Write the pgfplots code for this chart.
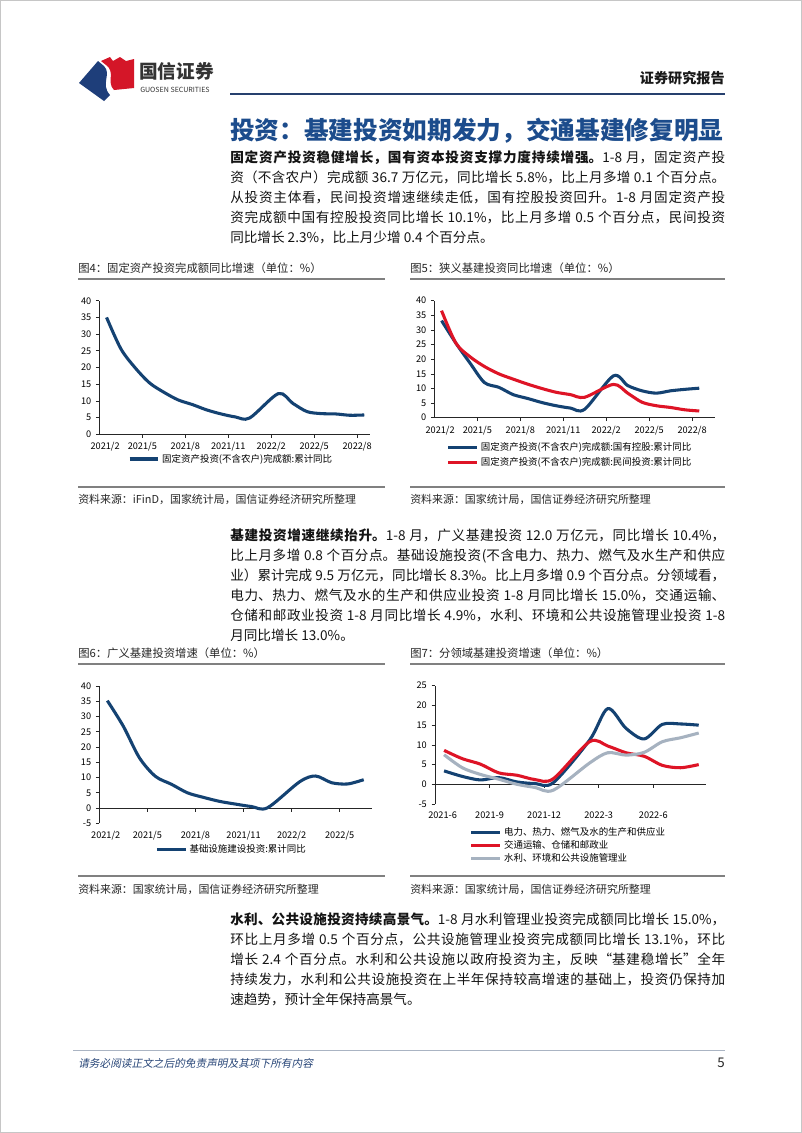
\documentclass[border=0pt]{standalone}
\usepackage{pgfplots}
\pgfplotsset{compat=1.18}
\usepackage{fontspec}
\setmainfont{Noto Sans CJK SC}
\newfontfamily\slantfont[FakeSlant=0.2]{Noto Sans CJK SC}
\XeTeXlinebreaklocale "zh"
\XeTeXlinebreakskip=0pt plus 1pt

\definecolor{chartblue}{RGB}{20,66,114}
\definecolor{chartred}{RGB}{222,20,38}
\definecolor{chartgray}{RGB}{166,178,192}
\definecolor{titleblue}{RGB}{28,76,140}
\definecolor{headerblue}{RGB}{38,64,110}
\definecolor{logoblue}{RGB}{30,62,122}
\definecolor{logored}{RGB}{212,22,40}
\definecolor{footblue}{RGB}{40,70,120}
\definecolor{footline}{RGB}{170,180,195}
\definecolor{rulegray}{RGB}{128,128,128}

\newcommand\bodyfont{\fontsize{10.2pt}{15pt}\selectfont}

\pgfplotsset{
  pagechart/.style={
    scale only axis, anchor=south west,
    axis x line*=bottom, axis y line*=left,
    tick align=outside, major tick length=2.6pt,
    axis line style={black!85, line width=0.55pt},
    tick style={black!85, line width=0.5pt},
    tick label style={font=\fontsize{6.9pt}{7pt}\selectfont, black},
    /pgf/number format/assume math mode=true,
    legend style={draw=none, fill=none, font=\fontsize{7.1pt}{8pt}\selectfont,
      inner sep=0pt, outer sep=0pt, /tikz/column sep=1.2pt,
      nodes={inner sep=0.6pt, text height=6pt, text depth=1.5pt}},
    legend cell align=left,
    legend image code/.code={\draw[#1, line width=2.3pt] (0pt,0pt) -- (21.5pt,0pt);},
    every axis plot/.append style={line width=2.3pt, smooth, tension=0.5},
    extra x tick style={major tick style={draw opacity=0}},
  },
}

\begin{document}
\begin{tikzpicture}
\path[use as bounding box, fill=white] (0pt,0pt) rectangle (601.5pt,-849.75pt);

\begin{scope}[x=0.75pt, y=-0.75pt]
% page frame
\draw[gray!45, line width=0.75pt] (0.5,0.5) rectangle (801.5,1132.5);
% logo
\fill[logoblue] (79,83) -- (98,61) -- (104,66) .. controls (112,74) and (100,84) .. (110,95) -- (104,101) -- cycle;
\fill[logored] (101,61) -- (110,57) -- (113,61) -- (120,57) -- (126,61) -- (134,59) -- (134,88) -- (114,90) .. controls (106,82) and (116,72) .. (106,65) -- cycle;
\node[anchor=west, inner sep=0, font=\bfseries\fontsize{14pt}{16pt}\selectfont, text=black!80] at (139,71) {国信证券};
\node[anchor=west, inner sep=0, font=\fontsize{5.3pt}{6pt}\selectfont, text=black!80] at (140,90) {GUOSEN SECURITIES};
\node[anchor=east, inner sep=0, font=\bfseries\fontsize{10.6pt}{12pt}\selectfont, text=black!90] at (725,78) {证券研究报告};
\draw[headerblue, line width=1.6pt] (230,94) -- (725,94);
% title
\node[anchor=west, inner sep=0, font=\bfseries\fontsize{18.5pt}{20pt}\selectfont, text=titleblue] at (230,131) {投资：基建投资如期发力，交通基建修复明显};

% paragraph 1
\node[anchor=north west, inner sep=0, text width=371.25pt, align=justify, font=\bodyfont, text=black!92] at (230,148.2) {\noindent\strut\textbf{固定资产投资稳健增长，国有资本投资支撑力度持续增强。}1-8 月，固定资产投\linebreak
资（不含农户）完成额 36.7 万亿元，同比增长 5.8\%，比上月多增 0.1 个百分点。\linebreak
从投资主体看，民间投资增速继续走低，国有控股投资回升。1-8 月固定资产投\linebreak
资完成额中国有控股投资同比增长 10.1\%，比上月多增 0.5 个百分点，民间投资\linebreak
同比增长 2.3\%，比上月少增 0.4 个百分点。};

% paragraph 2
\node[anchor=north west, inner sep=0, text width=371.25pt, align=justify, font=\bodyfont, text=black!92] at (230,526.2) {\noindent\strut\textbf{基建投资增速继续抬升。}1-8 月，广义基建投资 12.0 万亿元，同比增长 10.4\%，\linebreak
比上月多增 0.8 个百分点。基础设施投资(不含电力、热力、燃气及水生产和供应\linebreak
业）累计完成 9.5 万亿元，同比增长 8.3\%。比上月多增 0.9 个百分点。分领域看，\linebreak
电力、热力、燃气及水的生产和供应业投资 1-8 月同比增长 15.0\%，交通运输、\linebreak
仓储和邮政业投资 1-8 月同比增长 4.9\%，水利、环境和公共设施管理业投资 1-8\linebreak
月同比增长 13.0\%。};

% paragraph 3
\node[anchor=north west, inner sep=0, text width=371.25pt, align=justify, font=\bodyfont, text=black!92] at (230,910.2) {\noindent\strut\textbf{水利、公共设施投资持续高景气。}1-8 月水利管理业投资完成额同比增长 15.0\%，\linebreak
环比上月多增 0.5 个百分点，公共设施管理业投资完成额同比增长 13.1\%，环比\linebreak
增长 2.4 个百分点。水利和公共设施以政府投资为主，反映“基建稳增长”全年\linebreak
持续发力，水利和公共设施投资在上半年保持较高增速的基础上，投资仍保持加\linebreak
速趋势，预计全年保持高景气。};

% figure titles and rules
\node[anchor=west, inner sep=0, font=\fontsize{8.5pt}{10pt}\selectfont, text=black!85] at (78,268) {图4：固定资产投资完成额同比增速（单位：\%）};
\node[anchor=west, inner sep=0, font=\fontsize{8.5pt}{10pt}\selectfont, text=black!85] at (410,268) {图5：狭义基建投资同比增速（单位：\%）};
\draw[rulegray, line width=1.1pt] (78,279) -- (385,279);
\draw[rulegray, line width=1.1pt] (410,279) -- (725,279);
\draw[rulegray, line width=1.4pt] (78,487) -- (385,487);
\draw[rulegray, line width=1.4pt] (410,487) -- (725,487);
\node[anchor=west, inner sep=0, font=\fontsize{8.2pt}{10pt}\selectfont, text=black!85] at (78,499) {资料来源：iFinD，国家统计局，国信证券经济研究所整理};
\node[anchor=west, inner sep=0, font=\fontsize{8.2pt}{10pt}\selectfont, text=black!85] at (410,499) {资料来源：国家统计局，国信证券经济研究所整理};

\node[anchor=west, inner sep=0, font=\fontsize{8.5pt}{10pt}\selectfont, text=black!85] at (78,653) {图6：广义基建投资增速（单位：\%）};
\node[anchor=west, inner sep=0, font=\fontsize{8.5pt}{10pt}\selectfont, text=black!85] at (410,653) {图7：分领域基建投资增速（单位：\%）};
\draw[rulegray, line width=1.1pt] (78,664) -- (385,664);
\draw[rulegray, line width=1.1pt] (410,664) -- (725,664);
\draw[rulegray, line width=1.4pt] (78,876) -- (385,876);
\draw[rulegray, line width=1.4pt] (410,876) -- (725,876);
\node[anchor=west, inner sep=0, font=\fontsize{8.2pt}{10pt}\selectfont, text=black!85] at (78,889) {资料来源：国家统计局，国信证券经济研究所整理};
\node[anchor=west, inner sep=0, font=\fontsize{8.2pt}{10pt}\selectfont, text=black!85] at (410,889) {资料来源：国家统计局，国信证券经济研究所整理};

% footer
\draw[footline, line width=0.7pt] (73,1050) -- (725,1050);
\node[anchor=west, inner sep=0, font=\slantfont\fontsize{8pt}{10pt}\selectfont, text=footblue] at (78,1063) {请务必阅读正文之后的免责声明及其项下所有内容};
\node[anchor=east, inner sep=0, font=\fontsize{10pt}{12pt}\selectfont, text=black!85] at (725,1063) {5};
\end{scope}

% ---------------- Chart 4 ----------------
\begin{axis}[pagechart,
  at={(74.55pt,-325.73pt)}, width=202.95pt, height=100.2pt,
  xmin=0, xmax=18.9, ymin=0, ymax=40,
  ytick={0,5,...,40},
  xtick={3,6,9,12,15,18},
  xticklabels={2021/5,2021/8,2021/11,2022/2,2022/5,2022/8},
  extra x ticks={0.4}, extra x tick labels={2021/2},
  legend style={at={(0.4845,-0.185)}, anchor=center},
]
\addplot[chartblue] coordinates {(0.5,35.0)(1.5,25.6)(2.5,19.9)(3.5,15.4)(4.5,12.6)(5.5,10.3)(6.5,8.9)(7.5,7.3)(8.5,6.1)(9.5,5.2)(10.5,4.9)(12.5,12.2)(13.5,9.3)(14.5,6.8)(15.5,6.2)(16.5,6.1)(17.5,5.7)(18.5,5.8)};
\addlegendentry{固定资产投资(不含农户)完成额:累计同比}
\end{axis}

% ---------------- Chart 5 ----------------
\begin{axis}[pagechart,
  at={(325.8pt,-313.28pt)}, width=210.45pt, height=87.75pt,
  xmin=0, xmax=19.6, ymin=0, ymax=40,
  ytick={0,5,...,40},
  xtick={3,6,9,12,15,18},
  xticklabels={2021/5,2021/8,2021/11,2022/2,2022/5,2022/8},
  extra x ticks={0.4}, extra x tick labels={2021/2},
  legend style={at={(0.044,-0.207)}, anchor=north west, /tikz/row sep=2.2pt},
]
\addplot[chartblue] coordinates {(0.5,33.2)(1.5,25.5)(2.5,18.6)(3.5,12.0)(4.5,10.4)(5.5,7.9)(6.5,6.6)(7.5,5.2)(8.5,4.1)(9.5,3.3)(10.5,2.9)(12.5,14.3)(13.5,11.0)(14.5,9.2)(15.5,8.4)(16.5,9.2)(17.5,9.7)(18.5,10.1)};
\addlegendentry{固定资产投资(不含农户)完成额:国有控股:累计同比}
\addplot[chartred] coordinates {(0.5,36.6)(1.5,25.5)(2.5,20.8)(3.5,17.5)(4.5,15.0)(5.5,13.2)(6.5,11.5)(7.5,10.0)(8.5,8.7)(9.5,7.9)(10.5,7.0)(12.5,11.4)(13.5,8.4)(14.5,5.3)(15.5,4.1)(16.5,3.5)(17.5,2.7)(18.5,2.3)};
\addlegendentry{固定资产投资(不含农户)完成额:民间投资:累计同比}
\end{axis}

% ---------------- Chart 6 ----------------
\begin{axis}[pagechart,
  axis x line*=middle,
  at={(74.48pt,-617.48pt)}, width=204.3pt, height=103.0pt,
  xmin=0, xmax=17.0, ymin=-5, ymax=40,
  ytick={-5,0,5,...,40},
  xtick={3,6,9,12,15},
  xticklabels={2021/5,2021/8,2021/11,2022/2,2022/5},
  extra x ticks={0.4}, extra x tick labels={2021/2},
  xticklabel style={yshift=-11.44pt},
  legend style={at={(0.4835,-0.194)}, anchor=center},
]
\addplot[chartblue] coordinates {(0.5,35.2)(1.5,26.8)(2.5,16.5)(3.5,10.4)(4.5,7.8)(5.5,5.0)(6.5,3.5)(7.5,2.2)(8.5,1.3)(9.5,0.5)(10.5,0.1)(12.5,8.6)(13.5,10.5)(14.5,8.3)(15.5,7.9)(16.5,9.3)};
\addlegendentry{基础设施建设投资:累计同比}
\end{axis}

% ---------------- Chart 7 ----------------
\begin{axis}[pagechart,
  axis x line*=middle,
  at={(326.25pt,-603pt)}, width=203.25pt, height=88.73pt,
  xmin=0, xmax=14.9, ymin=-5, ymax=25,
  ytick={-5,0,5,...,25},
  xtick={3,6,9,12},
  xticklabels={2021-9,2021-12,2022-3,2022-6},
  extra x ticks={0.42}, extra x tick labels={2021-6},
  xticklabel style={yshift=-14.79pt},
  legend style={at={(0.129,-0.192)}, anchor=north west, /tikz/row sep=0.9pt},
]
\addplot[chartblue] coordinates {(0.5,3.4)(1.5,2.0)(2.5,1.1)(3.5,1.7)(4.5,0.6)(5.5,0.2)(6.5,0.4)(8.5,11.2)(9.5,19.2)(10.5,14.2)(11.5,11.5)(12.5,15.2)(13.5,15.3)(14.5,15.0)};
\addlegendentry{电力、热力、燃气及水的生产和供应业}
\addplot[chartred] coordinates {(0.5,8.6)(1.5,6.5)(2.5,5.1)(3.5,2.9)(4.5,2.3)(5.5,1.2)(6.5,1.4)(8.5,10.8)(9.5,9.7)(10.5,8.0)(11.5,7.1)(12.5,4.8)(13.5,4.2)(14.5,5.0)};
\addlegendentry{交通运输、仓储和邮政业}
\addplot[chartgray] coordinates {(0.5,7.5)(1.5,4.2)(2.5,2.5)(3.5,1.3)(4.5,0.0)(5.5,-0.8)(6.5,-1.5)(8.5,5.4)(9.5,8.0)(10.5,7.4)(11.5,8.1)(12.5,10.8)(13.5,11.8)(14.5,13.0)};
\addlegendentry{水利、环境和公共设施管理业}
\end{axis}
\end{tikzpicture}
\end{document}
